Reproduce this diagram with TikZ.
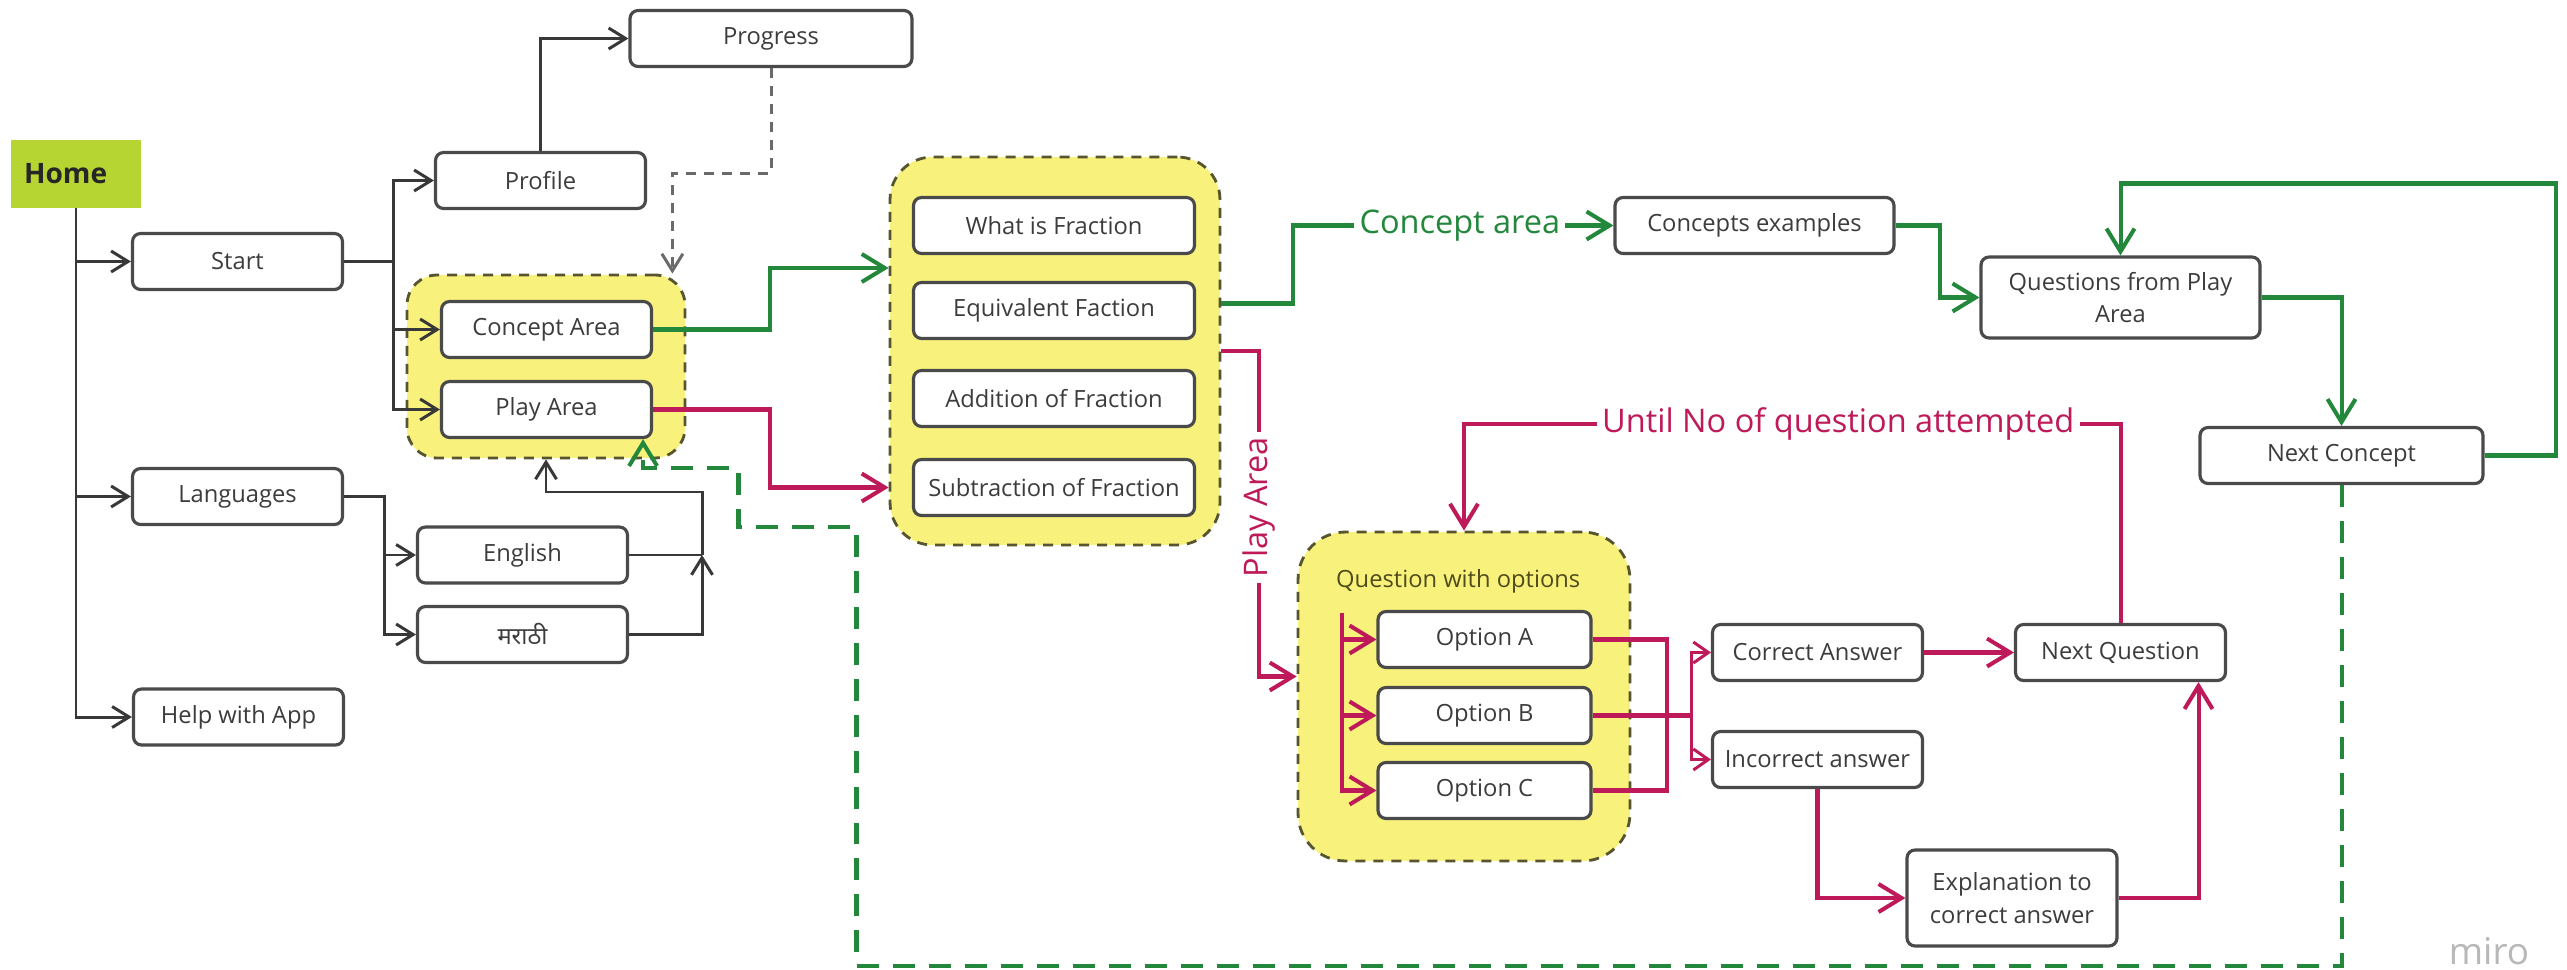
\documentclass[tikz,border=0pt]{standalone}
\usepackage{fontspec}
\setmainfont{Open Sans}
\newfontfamily\devfont[Script=Devanagari]{Noto Sans}
\usetikzlibrary{calc,arrows.meta}

\definecolor{boxline}{HTML}{4A4A4A}
\definecolor{txt}{HTML}{3C3C3C}
\definecolor{linegray}{HTML}{383838}
\definecolor{dashgray}{HTML}{6A6A6A}
\definecolor{flowgreen}{HTML}{23873C}
\definecolor{flowred}{HTML}{BE1A5A}
\definecolor{areayellow}{HTML}{F8F27C}
\definecolor{areaedge}{HTML}{57552F}
\definecolor{areatext}{HTML}{4F4C1C}
\definecolor{homelime}{HTML}{B7D532}

\begin{document}
\begin{tikzpicture}[x=0.02cm, y=-0.02cm,
  box/.style={draw=boxline, line width=1.8pt, fill=white, rounded corners=0.16cm,
    text=txt, font=\fontsize{13.5}{18.5}\selectfont, align=center,
    minimum width=4.2cm, minimum height=1.12cm, inner sep=1pt},
  widebox/.style={box, minimum width=5.62cm},
  homebox/.style={fill=homelime, minimum width=2.6cm, minimum height=1.36cm,
    text width=2.08cm, inner xsep=0.26cm, align=left, text=black!85,
    font=\fontsize{16}{18}\selectfont\bfseries},
  area/.style={draw=areaedge, fill=areayellow, line width=1.6pt,
    dash pattern=on 0.2cm off 0.16cm},
  plainline/.style={line width=1.7pt, color=linegray},
  conn/.style={plainline, -{Straight Barb[length=0.34cm,width=0.42cm]}},
  gline/.style={line width=2.3pt, color=flowgreen},
  garrow/.style={gline, -{Straight Barb[length=0.46cm,width=0.56cm]}},
  rline/.style={line width=2.3pt, color=flowred},
  rarrow/.style={rline, -{Straight Barb[length=0.46cm,width=0.56cm]}},
  rsmall/.style={rline, line width=1.7pt, -{Straight Barb[length=0.3cm,width=0.42cm]}},
  flowlabel/.style={fill=white, inner xsep=3pt, inner ysep=1pt,
    font=\fontsize{18.5}{20}\selectfont}]

  \useasboundingbox (0,0) rectangle (2567,970);
  \fill[white] (0,0) rectangle (2567,970);

  % yellow areas
  \node[area, rounded corners=0.6cm, minimum width=5.56cm, minimum height=3.66cm] (areagroup) at (546,366.5) {};
  \node[area, rounded corners=0.85cm, minimum width=6.6cm, minimum height=7.76cm] (fracgroup) at (1055,351) {};
  \node[area, rounded corners=0.95cm, minimum width=6.64cm, minimum height=6.58cm] (optgroup) at (1464,696.5) {};

  % boxes
  \node[homebox] (home) at (76,174) {Home};
  \node[box] (start) at (237.5,261.5) {Start};
  \node[box] (profile) at (540.5,180.5) {Profile};
  \node[box, minimum width=5.64cm] (progress) at (771,38.5) {Progress};
  \node[box] (concarea) at (546.5,329.5) {Concept Area};
  \node[box] (playarea) at (546.5,409.5) {Play Area};
  \node[box] (languages) at (237.5,496.5) {Languages};
  \node[box] (english) at (522.5,555) {English};
  \node[box] (marathi) at (522.5,634.5) {\devfont मराठी};
  \node[box] (help) at (238.5,717) {Help with App};

  \node[widebox] (whatfr) at (1054,225.5) {What is Fraction};
  \node[widebox] (equiv) at (1054,310.5) {Equivalent Faction};
  \node[widebox] (addit) at (1054,398.5) {Addition of Fraction};
  \node[widebox] (subtr) at (1054,487.5) {Subtraction of Fraction};

  \node[box, minimum width=5.58cm] (conex) at (1754.5,225.5) {Concepts examples};
  \node[box, minimum width=5.58cm, minimum height=1.62cm] (qplay) at (2120.5,297.5) {Questions from Play\\Area};
  \node[box, minimum width=5.66cm] (nextc) at (2341.5,455.5) {Next Concept};

  \node[anchor=west, text=areatext, font=\fontsize{13.5}{16}\selectfont] (optlabel) at (1330,581) {Question with options};
  \node[box, minimum width=4.26cm] (optA) at (1484.5,639.5) {Option A};
  \node[box, minimum width=4.26cm] (optB) at (1484.5,715.5) {Option B};
  \node[box, minimum width=4.26cm] (optC) at (1484.5,790.5) {Option C};

  \node[box] (correct) at (1817.5,652.5) {Correct Answer};
  \node[box] (incorr) at (1817.5,759.5) {Incorrect answer};
  \node[box] (nextq) at (2120.5,652.5) {Next Question};
  \node[box, minimum height=1.92cm] (explan) at (2012,898) {Explanation to\\correct answer};

  \node[text=black!28, font=\fontsize{21}{22}\selectfont] (miro) at (2489,951) {miro};

  % menu connectors
  \foreach \n in {start,languages,help}
    \draw[conn] (home.south) |- (\n.west);
  \foreach \n in {profile,concarea,playarea}
    \draw[conn] (start.east) -- ++(49,0) |- (\n.west);
  \draw[conn] (profile.north) |- (progress.west);
  \draw[conn, color=dashgray, dash pattern=on 0.2cm off 0.16cm] (progress.south) -- ++(0,105) -| ([xshift=-0.28cm]areagroup.north east);

  \coordinate (langjoin) at (702,555);
  \foreach \n in {english,marathi}
    \draw[conn] (languages.east) -- ++(40,0) |- (\n.west);
  \draw[plainline] (english.east) -- (langjoin);
  \draw[conn] (marathi.east) -| (langjoin);
  \draw[conn] (langjoin) -- ++(0,-63) -| (areagroup.south);

  % concept area (green)
  \draw[garrow] (concarea.east) -- ++(117,0) |- ($(fracgroup.west |- whatfr)!0.5!(fracgroup.west |- equiv)$);
  \draw[garrow] ($(fracgroup.east |- equiv)+(0,-7)$) -- ++(72,0) |- node[flowlabel, text=flowgreen, pos=0.76] {Concept area} (conex.west);
  \draw[garrow] (conex.east) -- ++(44,0) |- (qplay.west);
  \draw[garrow] (qplay.east) -| (nextc.north);
  \draw[garrow] (nextc.east) -- ++(71,0) -- ++(0,-272) -| (qplay.north);
  \draw[gline, dash pattern=on 0.44cm off 0.28cm, -{Straight Barb[length=0.46cm,width=0.56cm]}]
    (nextc.south) -- ++(0,481) -- ++(-1485,0) -- ++(0,-439) -- ++(-118,0) -- ++(0,-59)
    -| ($(playarea.south east)+(-10,0)$);

  % play area (red)
  \draw[rarrow] (playarea.east) -- ++(117,0) |- (fracgroup.west |- subtr);
  \draw[rarrow] (fracgroup.east) -- ++(38,0) |- node[flowlabel, text=flowred, rotate=90, pos=0.24] {Play Area} ($(optgroup.west)+(0,-20)$);

  \coordinate (bustop) at (1342,613);
  \draw[rarrow] (bustop) |- (optC.west);
  \draw[rarrow] (bustop |- optA) -- (optA.west);
  \draw[rarrow] (bustop |- optB) -- (optB.west);
  \draw[rline] (optA.east) -- ++(74,0) |- (optC.east);
  \draw[rline] (optB.east) -- ++(99,0) coordinate (ansjoin);
  \draw[rsmall] (ansjoin) |- (correct.west);
  \draw[rsmall] (ansjoin) |- (incorr.west);

  \draw[rarrow] (correct) -- (nextq);
  \draw[rarrow] (nextq.north) -- ++(0,-199) -| node[flowlabel, text=flowred, pos=0.215] {Until No of question attempted} (optgroup.north);
  \draw[rarrow] (incorr.south) |- (explan.west);
  \draw[rarrow] (explan.east) -| ($(nextq.south)+(78,0)$);
\end{tikzpicture}
\end{document}
